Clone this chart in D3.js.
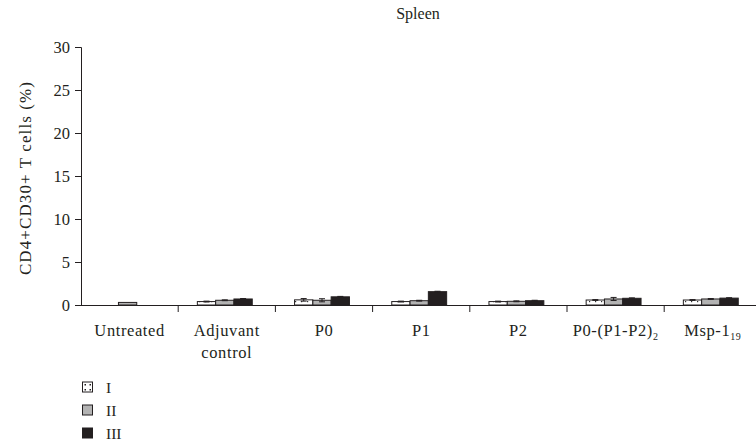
<!DOCTYPE html>
<html>
<head>
<meta charset="utf-8">
<script src="https://cdn.jsdelivr.net/npm/d3@7/dist/d3.min.js"></script>
<style>
  html, body { margin: 0; padding: 0; background: #fff; }
  svg text { font-family: "Liberation Serif", "DejaVu Serif", serif; }
</style>
</head>
<body>
<svg id="chart" width="756" height="445"></svg>
<script>
// Groups along the x axis
const categories = ["Untreated", "Adjuvant control", "P0", "P1", "P2", "P0-(P1-P2)2", "Msp-1 19"];
// Series (immunisation groups I, II, III)
const seriesNames = ["I", "II", "III"];
const valuesI   = [0,    0.40, 0.60, 0.40, 0.40, 0.58, 0.58];
const valuesII  = [0.30, 0.55, 0.55, 0.50, 0.43, 0.70, 0.70];
const valuesIII = [0,    0.70, 0.95, 1.55, 0.50, 0.78, 0.80];
// Standard errors
const errI   = [0, 0.05, 0.15, 0.05, 0.05, 0.05, 0.05];
const errII  = [0, 0.05, 0.18, 0.05, 0.05, 0.18, 0.05];
const errIII = [0, 0.05, 0.05, 0.05, 0.05, 0.05, 0.05];
const yTicks = [0, 5, 10, 15, 20, 25, 30];

const FONT = "'Liberation Serif', 'DejaVu Serif', serif";
const INK = "#231f20";
const svg = d3.select("#chart");
const margin = { left: 81, top: 47 };
const W = 756;
const plotBottom = 305;

const x = d3.scaleBand().domain(categories).range([margin.left, margin.left + 97.2 * 7]).padding(0);
const y = d3.scaleLinear().domain([0, 30]).range([plotBottom, margin.top]);

const fills = ["url(#dots)", "#b3b3b3", INK];
const seriesVals = [valuesI, valuesII, valuesIII];
const seriesErr = [errI, errII, errIII];

// Dotted fill for series I
const defs = svg.append("defs");
const pat = defs.append("pattern").attr("id", "dots").attr("patternUnits", "userSpaceOnUse")
  .attr("width", 6).attr("height", 4);
pat.append("rect").attr("width", 6).attr("height", 4).attr("fill", "#fff");
pat.append("rect").attr("x", 1).attr("y", 1).attr("width", 1.2).attr("height", 1.2).attr("fill", "#333");

// Title
svg.append("text").attr("x", 418).attr("y", 19).attr("text-anchor", "middle")
  .attr("font-family", FONT).attr("font-size", 16).attr("fill", INK).text("Spleen");

// Y axis
const yAxis = d3.axisLeft(y).tickValues(yTicks).tickSize(6).tickPadding(5);
const gy = svg.append("g").attr("transform", `translate(${margin.left},0)`).call(yAxis)
  .attr("font-family", FONT);
gy.select(".domain").attr("stroke", INK);
gy.selectAll(".tick line").attr("stroke", INK);
gy.selectAll(".tick text").attr("font-size", 16.5).attr("fill", INK).attr("font-family", FONT);

svg.append("text").attr("transform", `translate(31,178) rotate(-90)`)
  .attr("text-anchor", "middle").attr("font-family", FONT).attr("font-size", 17)
  .attr("letter-spacing", 1.1).attr("fill", INK)
  .text("CD4+CD30+ T cells (%)");

// Bars
const barW = 18.3;
const groupW = barW * 3;
categories.forEach((c, i) => {
  const gx = x(c) + x.bandwidth() / 2 - groupW / 2 - 2;
  seriesVals.forEach((vals, s) => {
    const v = vals[i];
    if (v <= 0) return;
    const bx = gx + s * barW;
    svg.append("rect").attr("x", bx).attr("y", y(v)).attr("width", barW).attr("height", plotBottom - y(v))
      .attr("fill", fills[s]).attr("stroke", INK).attr("stroke-width", 1);
    const e = seriesErr[s][i];
    if (e > 0) {
      const cx = bx + barW / 2;
      const eg = svg.append("g").attr("stroke", INK).attr("stroke-width", 1);
      eg.append("line").attr("x1", cx).attr("x2", cx).attr("y1", y(v - e)).attr("y2", y(v + e));
      eg.append("line").attr("x1", cx - 3).attr("x2", cx + 3).attr("y1", y(v + e)).attr("y2", y(v + e));
      eg.append("line").attr("x1", cx - 3).attr("x2", cx + 3).attr("y1", y(v - e)).attr("y2", y(v - e));
    }
  });
});

// X axis
const xAxis = d3.axisBottom(x).tickValues([]).tickSizeOuter(0);
const gxAxis = svg.append("g").attr("transform", `translate(0,${plotBottom})`).call(xAxis);
gxAxis.select(".domain").attr("stroke", INK).attr("d", `M${margin.left},0.5H${W}`);
// Boundary ticks between groups
gxAxis.selectAll(".sep").data(categories.slice(1)).join("line")
  .attr("x1", d => x(d)).attr("x2", d => x(d)).attr("y1", 0).attr("y2", 7)
  .attr("stroke", INK);

// Category labels
const labelG = svg.append("g").attr("font-family", FONT).attr("font-size", 16.5)
  .attr("letter-spacing", 0.6).attr("fill", INK).attr("text-anchor", "middle");
categories.forEach(c => {
  const cx = x(c) + x.bandwidth() / 2;
  const t = labelG.append("text").attr("x", cx).attr("y", 336);
  if (c === "Adjuvant control") {
    t.append("tspan").attr("x", cx).text("Adjuvant");
    t.append("tspan").attr("x", cx).attr("dy", 22).text("control");
  } else if (c === "P0-(P1-P2)2") {
    t.append("tspan").text("P0-(P1-P2)");
    t.append("tspan").attr("dy", 4).attr("font-size", 10).text("2");
  } else if (c === "Msp-1 19") {
    t.append("tspan").text("Msp-1");
    t.append("tspan").attr("dy", 4).attr("font-size", 10).text("19");
  } else {
    t.text(c);
  }
});

// Legend
const legend = svg.append("g");
seriesNames.forEach((n, s) => {
  const ly = 382 + s * 23;
  legend.append("rect").attr("x", 82.5).attr("y", ly).attr("width", 10).attr("height", 10)
    .attr("fill", s === 0 ? "#fff" : fills[s]).attr("stroke", INK).attr("stroke-width", 1);
  if (s === 0) {
    [[84.5, 384], [89.5, 384], [84.5, 389], [89.5, 389]].forEach(([px, py]) =>
      legend.append("rect").attr("x", px).attr("y", py).attr("width", 1.5).attr("height", 1.5).attr("fill", INK));
  }
  legend.append("text").attr("x", 106).attr("y", ly + 11).attr("font-family", FONT)
    .attr("font-size", 15.5).attr("fill", INK).text(n);
});
</script>
</body>
</html>
